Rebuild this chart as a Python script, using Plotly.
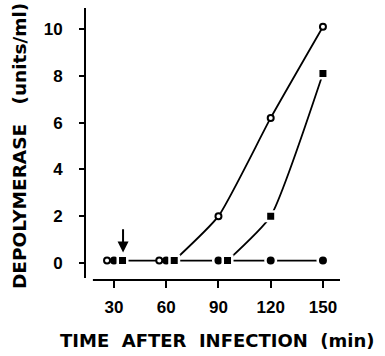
import plotly.graph_objects as go

times = [30, 60, 90, 120, 150]
open_vals = [0.1, 0.1, 2.0, 6.2, 10.1]
filled_vals = [0.1, 0.1, 0.1, 0.1, 0.1]
square_vals = [0.1, 0.1, 0.1, 2.0, 8.1]
y_ticks = [0, 2, 4, 6, 8, 10]
x_ticks = [30, 60, 90, 120, 150]
arrow_time = 30

# display offsets (minutes) so coincident markers sit side by side
open_off = [-4.0, -4.0, 0, 0, 0]
square_off = [4.9, 4.6, 5.2, 0, 0]

ox = [t + o for t, o in zip(times, open_off)]
sx = [t + o for t, o in zip(times, square_off)]

fig = go.Figure()
K = "black"

# baseline line (filled circles)
fig.add_trace(go.Scatter(x=[sx[0], times[-1]], y=[filled_vals[0], filled_vals[-1]], mode="lines",
                         line=dict(color=K, width=1.7), hoverinfo="skip"))
# open circle rising curve (from 60 square onwards)
fig.add_trace(go.Scatter(x=[sx[1]] + ox[2:], y=[square_vals[1]] + open_vals[2:], mode="lines",
                         line=dict(color=K, width=1.8, shape="spline", smoothing=0.5), hoverinfo="skip"))
# square rising curve
fig.add_trace(go.Scatter(x=sx[2:], y=square_vals[2:], mode="lines",
                         line=dict(color=K, width=1.8, shape="spline", smoothing=0.5), hoverinfo="skip"))

fig.add_trace(go.Scatter(x=times, y=filled_vals, mode="markers",
                         marker=dict(symbol="circle", size=10.5, color=K, line=dict(color="white", width=2.5))))
fig.add_trace(go.Scatter(x=sx, y=square_vals, mode="markers",
                         marker=dict(symbol="square", size=9.5, color=K, line=dict(color="white", width=2.5))))
fig.add_trace(go.Scatter(x=ox, y=open_vals, mode="markers",
                         marker=dict(symbol="circle", size=6, color="white", line=dict(color=K, width=2))))

xr = [13.35, 159.8]
yr = [-0.73, 10.9]

fig.update_layout(
    width=385, height=356,
    margin=dict(l=85, r=45, t=8, b=76),
    paper_bgcolor="white", plot_bgcolor="white",
    showlegend=False,
    xaxis=dict(range=xr, tickvals=x_ticks, ticks="outside", ticklen=7, tickwidth=2, tickcolor=K,
               showgrid=False, zeroline=False, showline=False, ticklabelstandoff=5,
               tickfont=dict(family="Liberation Sans", size=17, color=K, weight="bold")),
    yaxis=dict(range=yr, tickvals=y_ticks, ticks="outside", ticklen=5, tickwidth=2, tickcolor=K,
               showgrid=False, zeroline=False, showline=False, ticklabelstandoff=13,
               tickfont=dict(family="Liberation Sans", size=17, color=K, weight="bold")),
)

# axis lines (detached)
fig.add_shape(type="line", xref="paper", yref="y", x0=0, x1=0, y0=-0.64, y1=yr[1],
              line=dict(color=K, width=2))
fig.add_shape(type="line", xref="paper", yref="paper", x0=0.031, x1=1, y0=0, y1=0,
              line=dict(color=K, width=2))

# arrow
fig.add_annotation(x=arrow_time + 5.2, y=0.45, ax=arrow_time + 5.2, ay=1.5, xref="x", yref="y",
                   axref="x", ayref="y", text="", showarrow=True, arrowhead=2, arrowsize=1.1,
                   arrowwidth=2, arrowcolor=K)

fig.add_annotation(text="DEPOLYMERASE   (units/ml)", xref="paper", yref="paper",
                   x=(19 - 85) / 255, y=(280 - 146) / 272, xanchor="center", yanchor="middle",
                   textangle=-90, showarrow=False,
                   font=dict(family="DejaVu Sans", size=18.5, color=K, weight="bold"))
fig.add_annotation(text="TIME  AFTER  INFECTION  (min)", xref="paper", yref="paper",
                   x=(217 - 85) / 255, y=(280 - 340) / 272, xanchor="center", yanchor="middle",
                   showarrow=False,
                   font=dict(family="DejaVu Sans", size=18, color=K, weight="bold"))

fig.write_html("out.html")
